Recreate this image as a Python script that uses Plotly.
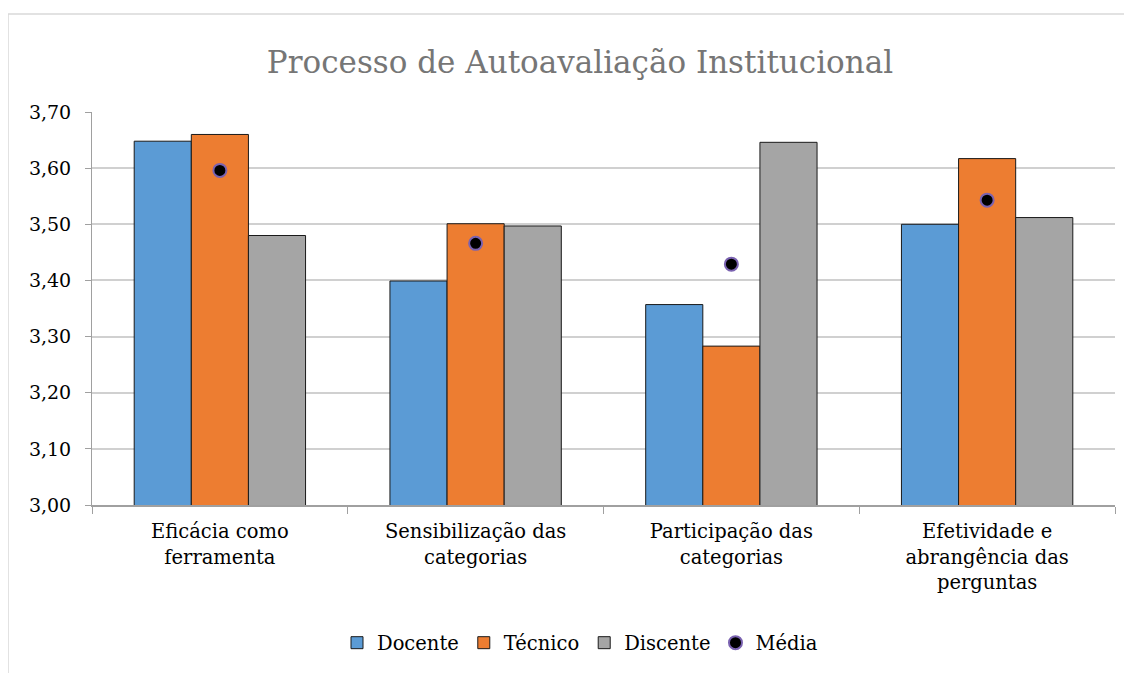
import plotly.graph_objects as go

categories = ["Eficácia como<br>ferramenta", "Sensibilização das<br>categorias",
              "Participação das<br>categorias", "Efetividade e<br>abrangência das<br>perguntas"]
docente = [3.648, 3.399, 3.357, 3.500]
tecnico = [3.660, 3.501, 3.283, 3.617]
discente = [3.480, 3.497, 3.646, 3.512]
media = [3.596, 3.466, 3.429, 3.543]
y_ticks = [3.0, 3.1, 3.2, 3.3, 3.4, 3.5, 3.6, 3.7]

FONT = "DejaVu Serif"
# page body has an 8px margin, so figure coords = page coords - 8
L, T, R, B = 84, 104, 1107, 497
W, H = 1132, 673

fig = go.Figure()
for name, vals, color in [("Docente", docente, "#5b9bd5"),
                          ("Técnico", tecnico, "#ed7d31"),
                          ("Discente", discente, "#a5a5a5")]:
    fig.add_trace(go.Bar(x=categories, y=vals, name=name,
                         marker=dict(color=color, line=dict(color="#1a1a1a", width=1))))
fig.add_trace(go.Scatter(x=categories, y=media, name="Média", mode="markers",
                         marker=dict(color="black", size=13,
                                     line=dict(color="#7a62b0", width=2))))

fig.update_layout(
    width=W, height=H,
    margin=dict(l=L, r=W - R, t=T, b=H - B),
    paper_bgcolor="white", plot_bgcolor="white",
    separators=", ",
    barmode="group", bargap=0.33, bargroupgap=0,
    font=dict(family=FONT, color="#000000", size=19),
    title=dict(text="Processo de Autoavaliação Institucional",
               font=dict(family=FONT, size=31, color="#767676"),
               x=572 / W, xanchor="center", y=1 - 54 / H, yanchor="middle"),
    legend=dict(orientation="h", x=(572 - L) / (R - L), xanchor="center",
                y=(B - 635) / (B - T), yanchor="middle",
                font=dict(size=19.5), traceorder="normal", itemwidth=30),
    showlegend=True,
)
fig.update_yaxes(range=[3.0, 3.7], tickvals=y_ticks, tickformat=".2f",
                 showgrid=True, gridcolor="#d0d0d0", gridwidth=2,
                 showline=True, linecolor="#a0a0a0", linewidth=1,
                 ticks="outside", ticklen=6, tickcolor="#a0a0a0",
                 ticklabelstandoff=10,
                 zeroline=False, tickfont=dict(size=19))
fig.update_xaxes(showline=True, linecolor="#a0a0a0", linewidth=2,
                 ticks="outside", tickson="boundaries", ticklen=7, tickcolor="#a0a0a0",
                 ticklabelstandoff=8,
                 tickfont=dict(size=19.5))

fig.add_shape(type="rect", xref="paper", yref="paper",
              x0=(0 - L) / (R - L), x1=1.3, y0=-1, y1=1 + (T - 6) / (B - T),
              line=dict(color="#d9d9d9", width=1.5), fillcolor="rgba(0,0,0,0)", layer="below")

fig.write_html("out.html")
